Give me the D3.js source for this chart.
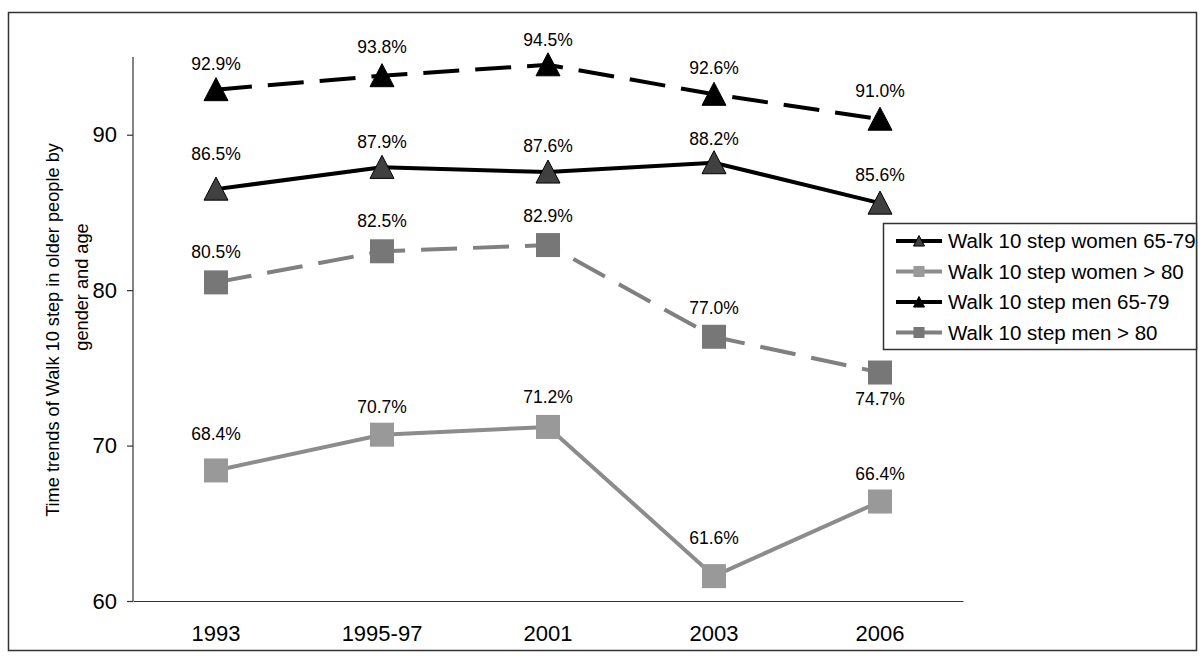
<!DOCTYPE html>
<html><head><meta charset="utf-8">
<script src="https://cdn.jsdelivr.net/npm/d3@7"></script>
<style>body{margin:0;background:#fff;} svg{display:block;font-family:"Liberation Sans",Arial,sans-serif;}</style>
</head><body>
<svg id="c" width="1200" height="670"></svg>
<script>
const categories = ["1993","1995-97","2001","2003","2006"];
const seriesNames = ["Walk 10 step women 65-79","Walk 10 step women > 80","Walk 10 step men 65-79","Walk 10 step men > 80"];
const women6579 = [86.5, 87.9, 87.6, 88.2, 85.6];
const women80 = [68.4, 70.7, 71.2, 61.6, 66.4];
const men6579 = [92.9, 93.8, 94.5, 92.6, 91.0];
const men80 = [80.5, 82.5, 82.9, 77.0, 74.7];
const yTicks = [60, 70, 80, 90];
const yTitle = ["Time trends of Walk 10 step in older people by", "gender and age"];

// styling (label offsets are vertical distances of label centre from marker centre)
const styles = [
  {values: women6579, line:"#000", dash:null, shape:"tri", fill:"#404040", stroke:"#000", labelOff:[-35,-25,-26,-24,-28]},
  {values: women80, line:"#8c8c8c", dash:null, shape:"sq", fill:"#999999", stroke:"none", labelOff:[-37,-28,-30,-38,-28]},
  {values: men6579, line:"#000", dash:"36,16", shape:"tri", fill:"#000", stroke:"#000", labelOff:[-26,-29,-25,-26,-28]},
  {values: men80, line:"#808080", dash:"36,16", shape:"sq", fill:"#777777", stroke:"none", labelOff:[-30,-30,-29,-29,26]}
];

const svg = d3.select("#c");
svg.append("rect").attr("x",8.5).attr("y",12.5).attr("width",1188).attr("height",638)
  .attr("fill","#fff").attr("stroke","#333").attr("stroke-width",1.5);

const x = d3.scaleBand().domain(categories).range([133,963]);
const y = d3.scaleLinear().domain([60,95]).range([601,57]);

// y axis
const ya = svg.append("g").attr("transform","translate(133,0)")
  .call(d3.axisLeft(y).tickValues(yTicks).tickSize(6).tickPadding(10).tickFormat(d3.format("d")));
ya.select(".domain").attr("stroke","#333").attr("stroke-width",1.2).attr("d","M-0,57V601");
ya.selectAll(".tick line").attr("stroke","#333").attr("stroke-width",1.2);
ya.selectAll(".tick text").attr("font-size",22).attr("fill","#000").attr("font-family","Liberation Sans, Arial, sans-serif");

// x axis
const xa = svg.append("g").attr("transform","translate(0,601)")
  .call(d3.axisBottom(x).tickSize(0).tickPadding(24));
xa.select(".domain").attr("stroke","#333").attr("stroke-width",1.2);
xa.selectAll(".tick text").attr("font-size",22).attr("fill","#000").attr("font-family","Liberation Sans, Arial, sans-serif");

// y title
svg.append("text").attr("transform","translate(59,330) rotate(-90)")
  .attr("text-anchor","middle").attr("font-size",18.2).attr("fill","#000").text(yTitle[0]);
svg.append("text").attr("transform","translate(88,287) rotate(-90)")
  .attr("text-anchor","middle").attr("font-size",18.2).attr("fill","#000").text(yTitle[1]);

const cx = d => x(d) + x.bandwidth()/2;
const line = d3.line().x((d,i)=>cx(categories[i])).y(d=>y(d));

function marker(g, shape, fill, stroke, px, py, r){
  if(shape==="tri"){
    g.append("path").attr("d",`M${px},${py-r}L${px+r},${py+r*0.92}L${px-r},${py+r*0.92}Z`)
      .attr("fill",fill).attr("stroke",stroke).attr("stroke-width",1);
  } else {
    g.append("rect").attr("x",px-r).attr("y",py-r).attr("width",2*r).attr("height",2*r).attr("fill",fill);
  }
}

const plot = svg.append("g");
styles.forEach(s=>{
  plot.append("path").datum(s.values).attr("d",line).attr("fill","none")
    .attr("stroke",s.line).attr("stroke-width",4).attr("stroke-dasharray",s.dash);
});
styles.forEach(s=>{
  s.values.forEach((v,i)=>{
    marker(plot, s.shape, s.fill, s.stroke, cx(categories[i]), y(v), 12);
  });
});
styles.forEach(s=>{
  s.values.forEach((v,i)=>{
    plot.append("text").attr("x",cx(categories[i])).attr("y", y(v)+s.labelOff[i])
      .attr("dy","0.35em")
      .attr("text-anchor","middle").attr("font-size",17.5).attr("fill","#000")
      .text(v.toFixed(1)+"%");
  });
});

// legend
const lg = svg.append("g");
lg.append("rect").attr("x",883.5).attr("y",223.5).attr("width",313).attr("height",126)
  .attr("fill","#fff").attr("stroke","#333").attr("stroke-width",1.5);
seriesNames.forEach((n,i)=>{
  const s = styles[i];
  const ly = 241 + i*30.5;
  lg.append("line").attr("x1",896).attr("x2",942).attr("y1",ly).attr("y2",ly)
    .attr("stroke",s.line).attr("stroke-width",4);
  marker(lg, s.shape, s.fill, s.stroke, 919, ly, 5.5);
  lg.append("text").attr("x",948).attr("y",ly).attr("dy","0.36em").attr("font-size",20.5).attr("fill","#000").text(n);
});
</script>
</body></html>
